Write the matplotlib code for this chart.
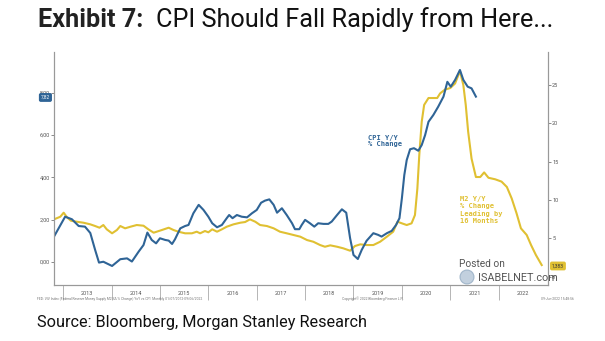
import numpy as np
import matplotlib.pyplot as plt
from matplotlib.patches import Circle
from matplotlib.transforms import blended_transform_factory

# CPI Y/Y % change (left axis)
cpi_year = [2012.81, 2013.04, 2013.18, 2013.32, 2013.45, 2013.56, 2013.66, 2013.74, 2013.83, 2014.01,
            2014.18, 2014.32, 2014.42, 2014.56, 2014.66, 2014.74, 2014.83, 2014.92, 2015.00, 2015.11,
            2015.18, 2015.25, 2015.31, 2015.42, 2015.52, 2015.59, 2015.69, 2015.80, 2015.90, 2016.00,
            2016.08, 2016.18, 2016.28, 2016.38, 2016.43, 2016.50, 2016.59, 2016.69, 2016.80, 2016.90,
            2017.00, 2017.09, 2017.17, 2017.26, 2017.35, 2017.42, 2017.52, 2017.62, 2017.73, 2017.79,
            2017.88, 2017.93, 2018.00, 2018.10, 2018.19, 2018.27, 2018.38, 2018.48, 2018.55, 2018.66,
            2018.76, 2018.85, 2018.93, 2019.00, 2019.09, 2019.17, 2019.27, 2019.41, 2019.51, 2019.58,
            2019.69, 2019.79, 2019.88, 2019.95, 2020.00, 2020.05, 2020.10, 2020.17, 2020.25, 2020.34,
            2020.41, 2020.48, 2020.55, 2020.65, 2020.75, 2020.86, 2020.94, 2021.01, 2021.10, 2021.20,
            2021.27, 2021.36, 2021.44, 2021.53]
cpi_yoy = [1.20, 2.14, 2.02, 1.70, 1.67, 1.37, 0.57, -0.03, 0.01, -0.19,
           0.13, 0.17, 0.02, 0.49, 0.80, 1.39, 1.04, 0.88, 1.12, 1.04,
           1.01, 0.85, 1.07, 1.59, 1.70, 1.75, 2.30, 2.70, 2.46, 2.14,
           1.83, 1.64, 1.75, 2.07, 2.22, 2.07, 2.22, 2.14, 2.11, 2.30,
           2.46, 2.80, 2.90, 2.96, 2.70, 2.33, 2.54, 2.22, 1.83, 1.55,
           1.55, 1.75, 1.99, 1.83, 1.67, 1.83, 1.80, 1.80, 1.91, 2.22,
           2.49, 2.33, 1.12, 0.33, 0.14, 0.57, 1.00, 1.36, 1.28, 1.20,
           1.36, 1.47, 1.75, 2.07, 3.01, 4.11, 4.82, 5.33, 5.38, 5.26,
           5.53, 6.00, 6.63, 6.95, 7.34, 7.82, 8.52, 8.29, 8.61, 9.08,
           8.61, 8.29, 8.21, 7.82]

# M2 Y/Y % change, leading by 16 months (right axis)
m2_year = [2012.81, 2012.94, 2013.01, 2013.08, 2013.16, 2013.28, 2013.42, 2013.56, 2013.66, 2013.75,
           2013.83, 2013.90, 2014.01, 2014.11, 2014.18, 2014.28, 2014.39, 2014.52, 2014.66, 2014.76,
           2014.87, 2015.04, 2015.18, 2015.28, 2015.38, 2015.52, 2015.66, 2015.76, 2015.83, 2015.93,
           2016.00, 2016.08, 2016.18, 2016.28, 2016.38, 2016.52, 2016.66, 2016.76, 2016.86, 2016.97,
           2017.07, 2017.21, 2017.35, 2017.48, 2017.62, 2017.76, 2017.90, 2018.04, 2018.17, 2018.31,
           2018.41, 2018.52, 2018.66, 2018.79, 2018.93, 2019.03, 2019.14, 2019.27, 2019.41, 2019.55,
           2019.69, 2019.82, 2019.91, 2020.00, 2020.10, 2020.20, 2020.27, 2020.32, 2020.36, 2020.41,
           2020.46, 2020.55, 2020.65, 2020.73, 2020.79, 2020.89, 2021.00, 2021.10, 2021.20, 2021.27,
           2021.32, 2021.37, 2021.44, 2021.53, 2021.62, 2021.70, 2021.79, 2021.93, 2022.06, 2022.17,
           2022.27, 2022.37, 2022.46, 2022.58, 2022.67, 2022.77, 2022.89]
m2_yoy = [7.48, 7.82, 8.35, 7.74, 7.30, 7.17, 7.04, 6.83, 6.61, 6.39,
          6.74, 6.18, 5.66, 6.09, 6.61, 6.31, 6.52, 6.74, 6.65, 6.18,
          5.74, 6.09, 6.39, 6.09, 5.87, 5.66, 5.66, 5.87, 5.66, 5.96,
          5.79, 6.18, 5.87, 6.18, 6.52, 6.83, 7.04, 7.13, 7.48, 7.17,
          6.74, 6.61, 6.31, 5.87, 5.66, 5.44, 5.22, 4.78, 4.56, 4.13,
          3.91, 4.09, 3.91, 3.70, 3.39, 4.00, 4.22, 4.13, 4.13, 4.56,
          5.22, 5.87, 7.17, 6.96, 6.74, 6.96, 8.04, 11.5, 15.9, 20.2,
          22.4, 23.3, 23.3, 23.3, 23.9, 24.4, 24.6, 25.2, 26.8, 25.0,
          22.4, 18.9, 15.4, 13.0, 13.0, 13.6, 12.9, 12.7, 12.4, 11.7,
          10.2, 8.27, 6.31, 5.44, 4.13, 2.83, 1.52]

left_ticks = [0, 2, 4, 6, 8]
left_labels = ["0,00", "2,00", "4,00", "6,00", "8,00"]
right_ticks = [0, 5, 10, 15, 20, 25]
years = list(range(2013, 2023))

plt.rcParams['font.family'] = ['Roboto', 'DejaVu Sans']

blue = "#2f6496"
yellow = "#e0c032"
grey = "#999999"

fig = plt.figure(figsize=(6.05, 3.41), dpi=100)
W, H = 605, 341
ax = fig.add_axes([54 / W, 1 - 285 / H, (548 - 54) / W, (285 - 52) / H])
ax2 = ax.twinx()
ax.set_zorder(2)
ax.patch.set_visible(False)

ax.plot(cpi_year, cpi_yoy, color=blue, lw=1.5, solid_joinstyle="round")
ax2.plot(m2_year, m2_yoy, color=yellow, lw=1.5, solid_joinstyle="round")

ax.set_xlim(2012.81, 2023.02)
ax.set_ylim(-1.09, 9.93)
ax2.set_ylim(-1.08, 29.3)

for a in (ax, ax2):
    a.spines["top"].set_visible(False)
    for s in ("left", "right", "bottom"):
        a.spines[s].set_color(grey)
        a.spines[s].set_linewidth(0.8)

ax.set_yticks(left_ticks)
ax.set_yticklabels(left_labels)
ax.tick_params(axis="y", labelsize=4, labelcolor="#555555", color="#777777", length=2, width=0.6, pad=1)
ax2.set_yticks(right_ticks)
ax2.tick_params(axis="y", labelsize=4, labelcolor="#555555", color="#777777", length=2, width=0.6, pad=1)

# year separators as major ticks, year names centred as minor ticks
ax.set_xticks(years)
ax.set_xticklabels([""] * len(years))
ax.set_xticks([y + 0.5 for y in years], minor=True)
ax.set_xticklabels([str(y) for y in years], minor=True)
ax.tick_params(axis="x", which="major", length=11, width=0.6, color="#aaaaaa")
ax.tick_params(axis="x", which="minor", length=0, labelsize=4, labelcolor="#555555", pad=4)

# series annotations
ax.text(2019.30, 5.72, "CPI Y/Y\n% Change", color=blue, fontsize=5, fontweight="bold",
        family="DejaVu Sans Mono", linespacing=1.1, va="center")
ax2.text(2021.20, 8.7, "M2 Y/Y\n% Change\nLeading by\n16 Months", color=yellow, fontsize=5,
         fontweight="bold", family="DejaVu Sans Mono", linespacing=1.15, va="center")

# last value tags
tl = blended_transform_factory(ax.transAxes, ax.transData)
ax.text(-0.008, 7.78, "7,82", transform=tl, ha="right", va="center", fontsize=3.5, color="white",
        bbox=dict(boxstyle="round,pad=0.25", fc=blue, ec=blue))
tr = blended_transform_factory(ax2.transAxes, ax2.transData)
ax2.text(1.008, 1.4, "1,383", transform=tr, ha="left", va="center", fontsize=3.5, color="#333333",
         bbox=dict(boxstyle="round,pad=0.25", fc=yellow, ec=yellow))

# footnote line under the axis
fig.text(37 / W, 1 - 299 / H, "FED: VIV Index (Federal Reserve Money Supply M2 SA % Change) YoY vs CPI  Monthly 01/07/2012-09/06/2022",
         fontsize=2.4, color="#777777", va="center")
fig.text(342 / W, 1 - 299 / H, "Copyright\u00a9 2022 Bloomberg Finance L.P.", fontsize=2.4, color="#777777", va="center")
fig.text(574 / W, 1 - 299 / H, "09-Jun-2022 15:48:56", fontsize=2.4, color="#777777", va="center", ha="right")

# title
t1 = fig.text(38 / W, 1 - 20 / H, "Exhibit 7:", fontsize=18.2, fontweight="bold", color="#222222", va="center")
fig.canvas.draw()
bb = t1.get_window_extent()
fig.text((bb.x1 + 13) / W, 1 - 20 / H, "CPI Should Fall Rapidly from Here...", fontsize=18.2,
         color="#111111", va="center")

fig.text(37 / W, 1 - 323 / H, "Source: Bloomberg, Morgan Stanley Research", fontsize=11.7, color="#111111", va="center")

# watermark
fig.patches.append(Circle((467 / 100, (H - 277) / 100), 0.07, transform=fig.dpi_scale_trans,
                          fc="#a9bdd0", ec="#8aa4bd", lw=0.8, alpha=0.7))
fig.text(459 / W, 1 - 264 / H, "Posted on", fontsize=7.3, color="#555555", va="center")
fig.text(478 / W, 1 - 278 / H, "ISABELNET.com", fontsize=7.8, color="#555555", va="center")

fig.savefig("out.png", dpi=100, facecolor="white")
